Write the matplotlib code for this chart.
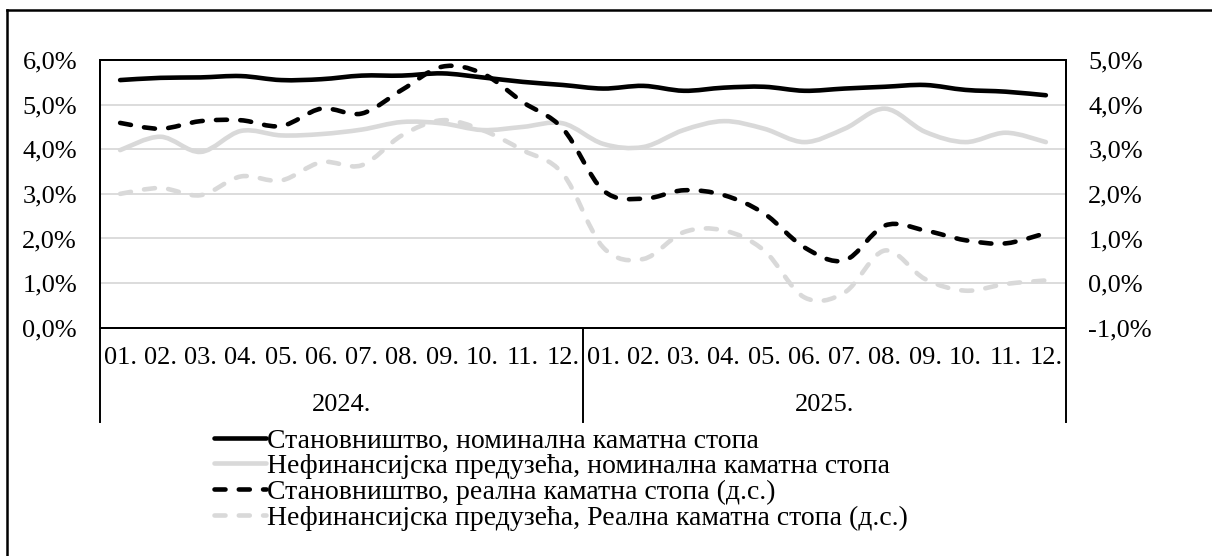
import numpy as np
import matplotlib.pyplot as plt
from matplotlib.path import Path
from matplotlib.patches import PathPatch
from matplotlib.lines import Line2D
from matplotlib.transforms import blended_transform_factory

plt.rcParams['font.family'] = ['Liberation Serif', 'DejaVu Serif']

months = ['01.', '02.', '03.', '04.', '05.', '06.', '07.', '08.', '09.', '10.', '11.', '12.'] * 2
years = ['2024.', '2025.']

# left axis, %
hh_nominal = [5.55, 5.60, 5.61, 5.64, 5.55, 5.57, 5.65, 5.65, 5.70, 5.61, 5.51, 5.44,
              5.36, 5.42, 5.31, 5.38, 5.40, 5.31, 5.36, 5.40, 5.44, 5.33, 5.29, 5.21]
nf_nominal = [3.98, 4.28, 3.94, 4.41, 4.31, 4.34, 4.44, 4.61, 4.58, 4.43, 4.50, 4.58,
              4.12, 4.05, 4.43, 4.63, 4.46, 4.16, 4.46, 4.91, 4.39, 4.16, 4.37, 4.16]
# right axis (д.с.), %
hh_real = [3.59, 3.46, 3.63, 3.65, 3.52, 3.91, 3.80, 4.33, 4.85, 4.70, 4.06, 3.46,
           2.08, 1.89, 2.08, 1.97, 1.56, 0.80, 0.51, 1.29, 1.18, 0.96, 0.89, 1.12]
nf_real = [2.00, 2.13, 1.97, 2.39, 2.30, 2.71, 2.64, 3.31, 3.65, 3.43, 2.98, 2.45,
           0.80, 0.54, 1.14, 1.18, 0.73, -0.32, -0.21, 0.73, 0.09, -0.17, -0.02, 0.06]

labels = ['Становништво, номинална каматна стопа',
          'Нефинансијска предузећа, номинална каматна стопа',
          'Становништво, реална каматна стопа (д.с.)',
          'Нефинансијска предузећа, Реална каматна стопа (д.с.)']

GRAY = '#d9d9d9'
LW = 3.3
DASH = (0, (2.4, 2.9))
FS = 19
FS_LEG = 20


def smooth_path(y):
    # Excel-style smoothed line as cubic bezier segments through the data points
    pts = np.column_stack([np.arange(len(y)), np.asarray(y, float)])
    verts = [pts[0]]
    codes = [Path.MOVETO]
    n = len(pts)
    for i in range(n - 1):
        p0 = pts[max(i - 1, 0)]
        p1 = pts[i]
        p2 = pts[i + 1]
        p3 = pts[min(i + 2, n - 1)]
        verts += [p1 + (p2 - p0) / 6, p2 - (p3 - p1) / 6, p2]
        codes += [Path.CURVE4] * 3
    return Path(verts, codes)


def add_line(ax, y, color, ls):
    ax.add_patch(PathPatch(smooth_path(y), fill=False, edgecolor=color, lw=LW,
                           linestyle=ls, capstyle='round', joinstyle='round'))


fig = plt.figure(figsize=(12.12, 5.56), dpi=100)
W, H = 1212, 556
left, right, top, bottom = 100, 1066, 60, 327.7
ax = fig.add_axes([left / W, 1 - bottom / H, (right - left) / W, (bottom - top) / H])
ax2 = ax.twinx()

ax.set_xlim(-0.5, 23.5)
ax.set_ylim(0, 6)
ax2.set_ylim(-1, 5)
ax.set_yticks(range(0, 7))
ax2.set_yticks(range(-1, 6))
ax.set_yticklabels([f'{v},0%' for v in range(0, 7)], fontsize=FS)
ax2.set_yticklabels([f'{v},0%' for v in range(-1, 6)], fontsize=FS)
ax.tick_params(axis='y', length=0, pad=16.5)
ax2.tick_params(axis='y', length=0, pad=16)
ax.set_xticks([])

for v in range(1, 6):
    ax.axhline(v, color=GRAY, lw=1.3, zorder=0)

for sp in list(ax.spines.values()) + list(ax2.spines.values()):
    sp.set_linewidth(1.4)
    sp.set_color('black')

add_line(ax, hh_nominal, 'black', '-')
add_line(ax, nf_nominal, GRAY, '-')
add_line(ax2, hh_real, 'black', DASH)
add_line(ax2, nf_real, GRAY, DASH)

# multi-level category axis
trans = blended_transform_factory(ax.transData, ax.transAxes)
ah = bottom - top
for i, m in enumerate(months):
    ax.text(i, -(358 - bottom) / ah, m, transform=trans, ha='center', va='center', fontsize=FS)
for j, yr in enumerate(years):
    ax.text(5.5 + 12 * j, -(405 - bottom) / ah, yr, transform=trans, ha='center', va='center', fontsize=FS)
for xs in [-0.5, 11.5, 23.5]:
    ax.plot([xs, xs], [0, -(421.7 - bottom) / ah], transform=trans, color='black', lw=1.4, clip_on=False)

handles = [Line2D([], [], color='black', lw=LW, solid_capstyle='round'),
           Line2D([], [], color=GRAY, lw=LW, solid_capstyle='round'),
           Line2D([], [], color='black', lw=LW, linestyle=DASH, dash_capstyle='round'),
           Line2D([], [], color=GRAY, lw=LW, linestyle=DASH, dash_capstyle='round')]
fig.legend(handles, labels, loc='upper left', bbox_to_anchor=(214 / W, 1 - 428 / H),
           frameon=False, fontsize=FS_LEG, handlelength=1.87, handletextpad=0.04,
           labelspacing=0.01, borderpad=0, borderaxespad=0)

# outer chart border
fig.add_artist(Line2D([7 / W, 7 / W], [0, 1 - 10 / H], color='black', lw=1.8))
fig.add_artist(Line2D([7 / W, 1], [1 - 10 / H, 1 - 10 / H], color='black', lw=1.8))

fig.savefig('out.png', dpi=100)
